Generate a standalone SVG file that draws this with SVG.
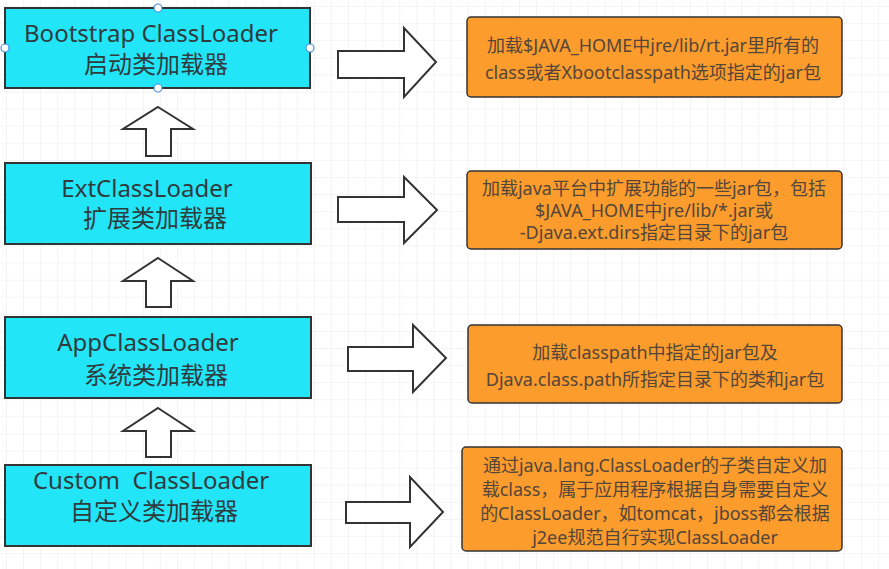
<svg xmlns="http://www.w3.org/2000/svg" width="889" height="569" viewBox="0 0 889 569">
<style>
.loader rect{fill:#22E6F7;stroke:#333;stroke-width:2}
.loader text{font-family:"Noto Sans","Noto Sans CJK SC",sans-serif;font-size:24px;fill:#2f3b3d;text-anchor:middle}
.desc rect{fill:#FB9C2C;stroke:#333;stroke-width:1.5}
.desc text{font-family:"Noto Sans","Noto Sans CJK SC",sans-serif;font-size:18px;fill:#54463a;text-anchor:middle}
.arr{fill:#fff;stroke:#333;stroke-width:2;stroke-linejoin:miter}
.handle{fill:#fff;stroke:#4a90e2;stroke-width:1.2}
</style>
<defs>
<pattern id="grid" x="6" y="6" width="17.1" height="17.1" patternUnits="userSpaceOnUse">
<path d="M0 0H17.1M0 0V17.1" fill="none" stroke="#e9e9e9" stroke-width="1"/>
</pattern>
</defs>
<rect width="889" height="569" fill="#fff"/>
<rect width="889" height="569" fill="url(#grid)"/>

<g id="connectors">
<polygon class="arr" points="158,107 193,129 171,129 171,156 146,156 146,129 123,129"/>
<polygon class="arr" points="158,258 193,281 171,281 171,307 146,307 146,281 123,281"/>
<polygon class="arr" points="158,408 193,431 171,431 171,457 146,457 146,431 123,431"/>
<polygon class="arr" points="338,51 404,51 404,28 436,62 404,97 404,78 338,78"/>
<polygon class="arr" points="338,197 404,197 404,177 437,210 404,243 404,222 338,222"/>
<polygon class="arr" points="348,347 413,347 413,325 446,358 413,392 413,371 348,371"/>
<polygon class="arr" points="346,502 410,502 410,477 443,512 410,547 410,523 346,523"/>
</g>

<g id="bootstrap" class="loader">
<rect x="5" y="8" width="305" height="80"/>
<text x="151" y="42">Bootstrap ClassLoader</text>
<text x="156" y="73">启动类加载器</text>
<circle class="handle" cx="158" cy="8" r="4"/>
<circle class="handle" cx="5" cy="48" r="4"/>
<circle class="handle" cx="310" cy="48" r="4"/>
<circle class="handle" cx="158" cy="88" r="4"/>
</g>

<g id="ext" class="loader">
<rect x="5" y="163" width="306" height="81"/>
<text x="147" y="197">ExtClassLoader</text>
<text x="155" y="227">扩展类加载器</text>
</g>

<g id="app" class="loader">
<rect x="5" y="317" width="306" height="81"/>
<text x="148" y="351">AppClassLoader</text>
<text x="156" y="384">系统类加载器</text>
</g>

<g id="custom" class="loader">
<rect x="5" y="465" width="306" height="81"/>
<text x="151" y="489" xml:space="preserve">Custom  ClassLoader</text>
<text x="154" y="520">自定义类加载器</text>
</g>

<g id="desc-bootstrap" class="desc">
<rect x="467" y="17" width="375" height="80" rx="4"/>
<text x="653" y="52">加载$JAVA_HOME中jre/lib/rt.jar里所有的</text>
<text x="653" y="79">class或者Xbootclasspath选项指定的jar包</text>
</g>

<g id="desc-ext" class="desc">
<rect x="467" y="171" width="375" height="78" rx="4"/>
<text x="654" y="195">加载java平台中扩展功能的一些jar包，包括</text>
<text x="654" y="217">$JAVA_HOME中jre/lib/*.jar或</text>
<text x="654" y="239">-Djava.ext.dirs指定目录下的jar包</text>
</g>

<g id="desc-app" class="desc">
<rect x="468" y="325" width="374" height="78" rx="4"/>
<text x="655" y="359">加载classpath中指定的jar包及</text>
<text x="655" y="386">Djava.class.path所指定目录下的类和jar包</text>
</g>

<g id="desc-custom" class="desc">
<rect x="462" y="447" width="380" height="104" rx="4"/>
<text x="655" y="472">通过java.lang.ClassLoader的子类自定义加</text>
<text x="655" y="496">载class，属于应用程序根据自身需要自定义</text>
<text x="655" y="520">的ClassLoader，如tomcat，jboss都会根据</text>
<text x="655" y="544">j2ee规范自行实现ClassLoader</text>
</g>
</svg>
